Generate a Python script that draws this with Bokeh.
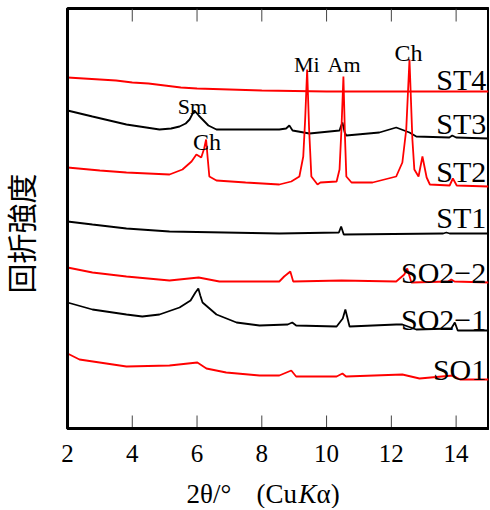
from bokeh.plotting import figure
from bokeh.layouts import column
from bokeh.models import Range1d, FixedTicker, ColumnDataSource
from bokeh.core.properties import value
from bokeh.embed import file_html
from bokeh.resources import INLINE

# ---- data (2θ in degrees, intensity in arbitrary units with offsets) ----
st4_x = [2.0, 2.5, 3.0, 3.5, 4.0, 4.5, 5.0, 5.5, 6.0, 7.0, 8.0, 9.0, 10.0, 11.0, 12.0, 13.0, 14.0, 15.0]
st4_y = [351, 350, 349, 348, 346, 345, 343, 341, 340, 339, 338, 337.5, 337, 337, 337, 337, 337, 337]

st3_x = [2.0, 2.77, 3.82, 4.84, 5.2, 5.46, 5.65, 5.77, 5.85, 5.92, 6.05, 6.17, 6.35, 6.60, 7.62, 8.54, 8.75, 8.85,
         8.95, 9.47, 10.40, 10.44, 10.49, 10.56, 10.61, 11.63, 12.15, 12.56, 12.77, 13.79, 13.88, 14.0, 15.0]
st3_y = [318, 312, 304, 299, 300, 302, 305, 309, 314, 318, 313, 309, 303, 299, 299, 299, 300, 303,
         298, 295, 298, 302, 306, 296, 293, 296, 301, 296, 292, 291, 293, 291, 290]

st2_x = [2.0, 3.0, 3.82, 5.15, 5.55, 5.83, 5.98, 6.13, 6.22, 6.28, 6.33, 6.38, 6.60, 7.5, 8.54, 8.91, 9.16, 9.28,
         9.34, 9.40, 9.46, 9.53, 9.72, 9.81, 10.31, 10.40, 10.46, 10.52, 10.57, 10.61, 10.77, 11.42, 12.15, 12.34,
         12.46, 12.56, 12.65, 12.71, 12.84, 12.96, 13.09, 13.19, 13.80, 13.90, 14.02, 15.0]
st2_y = [261, 258, 256, 254, 259, 267, 274, 271, 280, 289, 270, 252, 248, 246, 244, 247, 252, 272,
         310, 359, 300, 252, 244, 246, 247, 259, 300, 352, 290, 252, 246, 246, 252, 266,
         299, 369, 289, 259, 252, 272, 251, 244, 243, 250, 243, 242]

st1_x = [2.0, 2.77, 3.82, 5.15, 8.54, 10.38, 10.45, 10.53, 13.6, 13.70, 13.8, 15.0]
st1_y = [207, 204, 200, 197, 195, 196, 202, 194, 195, 196, 195, 195]

so22_x = [2.0, 2.77, 3.82, 5.15, 6.05, 6.69, 8.54, 8.69, 8.88, 8.97, 10.46, 12.15, 12.40, 12.49, 12.62, 13.75,
          13.85, 13.95, 15.0]
so22_y = [161, 156, 152, 148, 151, 147, 147, 152, 157, 147, 148, 147, 154, 160, 146, 147, 149, 147, 146]

so21_x = [2.0, 2.77, 3.82, 4.31, 4.84, 5.46, 5.8, 5.95, 6.04, 6.1, 6.17, 6.60, 7.22, 7.93, 8.8, 8.94, 9.06,
          10.31, 10.5, 10.58, 10.71, 12.15, 12.34, 12.77, 13.85, 13.96, 14.05, 15.0]
so21_y = [126, 119, 114, 112, 114, 121, 128, 136, 140, 133, 126, 114, 106, 103, 104, 106, 103,
          102, 110, 119, 102, 104, 104, 99, 100, 106, 98, 98]

so1_x = [2.0, 2.37, 3.82, 5.15, 6.01, 6.29, 6.9, 7.93, 8.54, 8.91, 9.06, 10.31, 10.49, 10.6, 12.34, 12.87,
         13.90, 14.12, 15.0]
so1_y = [75, 69, 62, 63, 66, 60, 56, 53, 53, 58, 52, 52, 55, 52, 54, 50, 53, 49, 49]

series_names = ["ST4", "ST3", "ST2", "ST1", "SO2−2", "SO2−1", "SO1"]
series_colors = ["#ff0000", "#000000", "#ff0000", "#000000", "#ff0000", "#000000", "#ff0000"]
series_label_y = [349, 305, 257, 211, 156, 109, 59]

peak_names = ["Mi", "Am", "Ch", "Sm", "Ch"]
peak_x = [9.39, 10.54, 12.53, 5.86, 6.31]
peak_y = [364, 364, 376, 322, 287]
peak_size = ["22px", "22px", "24px", "22px", "24px"]

x_ticks = [2, 4, 6, 8, 10, 12, 14]
tick_len = 13

SERIF = "Liberation Serif"
Y_LO, Y_HI = 0, 420
X_LO, X_HI = 2, 15

p = figure(width=489, height=474, output_backend="svg", toolbar_location=None,
           x_range=Range1d(X_LO, X_HI), y_range=Range1d(Y_LO, Y_HI),
           min_border_left=67, min_border_right=1, min_border_top=8, min_border_bottom=46)
p.grid.visible = False
p.outline_line_color = "black"
p.outline_line_width = 3
p.background_fill_color = "white"
p.border_fill_color = "white"

# bottom axis (labels only; inner ticks drawn below)
xa = p.xaxis[0]
xa.ticker = FixedTicker(ticks=x_ticks)
xa.major_tick_in = 0
xa.major_tick_out = 0
xa.minor_tick_line_color = None
xa.axis_line_width = 3
xa.major_label_text_font = SERIF
xa.major_label_text_font_size = "25px"
xa.major_label_text_color = "black"
xa.major_label_standoff = 16

# left axis (title only)
ya = p.yaxis[0]
ya.ticker = FixedTicker(ticks=[])
ya.major_tick_in = 0
ya.major_tick_out = 0
ya.minor_tick_line_color = None
ya.major_label_standoff = 0
ya.axis_line_width = 3
ya.axis_label = "回折強度\u3000"
ya.axis_label_text_font = "Liberation Sans, Noto Sans CJK JP"
ya.axis_label_text_font_size = "30px"
ya.axis_label_text_font_style = "normal"
ya.axis_label_text_color = "black"
ya.axis_label_standoff = 29

# inward ticks on bottom and top edges
n = len(x_ticks)
p.segment(x0=x_ticks, y0=[Y_LO] * n, x1=x_ticks, y1=[Y_LO + tick_len] * n, line_color="#444444", line_width=1)
p.segment(x0=x_ticks, y0=[Y_HI - tick_len] * n, x1=x_ticks, y1=[Y_HI] * n, line_color="#444444", line_width=1)

traces = [(st4_x, st4_y), (st3_x, st3_y), (st2_x, st2_y), (st1_x, st1_y),
          (so22_x, so22_y), (so21_x, so21_y), (so1_x, so1_y)]
for (xs, ys), c in zip(traces, series_colors):
    p.line(xs, ys, line_color=c, line_width=1.8)

# series labels
src_lab = ColumnDataSource(dict(x=[14.93] * len(series_names), y=series_label_y, t=series_names))
p.text(x="x", y="y", text="t", source=src_lab, text_align="right", text_baseline="alphabetic",
       text_font=value(SERIF), text_font_size="30px", text_color="black")

# peak labels
src_pk = ColumnDataSource(dict(x=peak_x, y=peak_y, t=peak_names, s=peak_size))
p.text(x="x", y="y", text="t", source=src_pk, text_align="center", text_baseline="alphabetic",
       text_font=value(SERIF), text_font_size="s", text_color="black")

# x-axis title strip (separate figure, frame aligned with the main plot, so the italic K can be styled)
p2 = figure(width=489, height=34, output_backend="svg", toolbar_location=None,
            x_range=p.x_range, y_range=Range1d(0, 34), x_axis_type=None, y_axis_type=None,
            min_border_left=67, min_border_right=1, min_border_top=0, min_border_bottom=0)
p2.grid.visible = False
p2.outline_line_color = None
p2.background_fill_color = "white"
p2.border_fill_color = "white"
title_parts = ["2θ/°", "(Cu", "K", "α)"]
title_x = [5.675, 7.837, 9.134, 9.69]
title_style = ["normal", "normal", "italic", "normal"]
src_t = ColumnDataSource(dict(x=title_x, y=[15] * 4, t=title_parts, st=title_style))
p2.text(x="x", y="y", text="t", source=src_t, text_align="left", text_baseline="alphabetic",
        text_font=value(SERIF), text_font_size="27px", text_font_style="st", text_color="black")

layout = column(p, p2, spacing=0)
open("out.html", "w").write(file_html(layout, INLINE))
